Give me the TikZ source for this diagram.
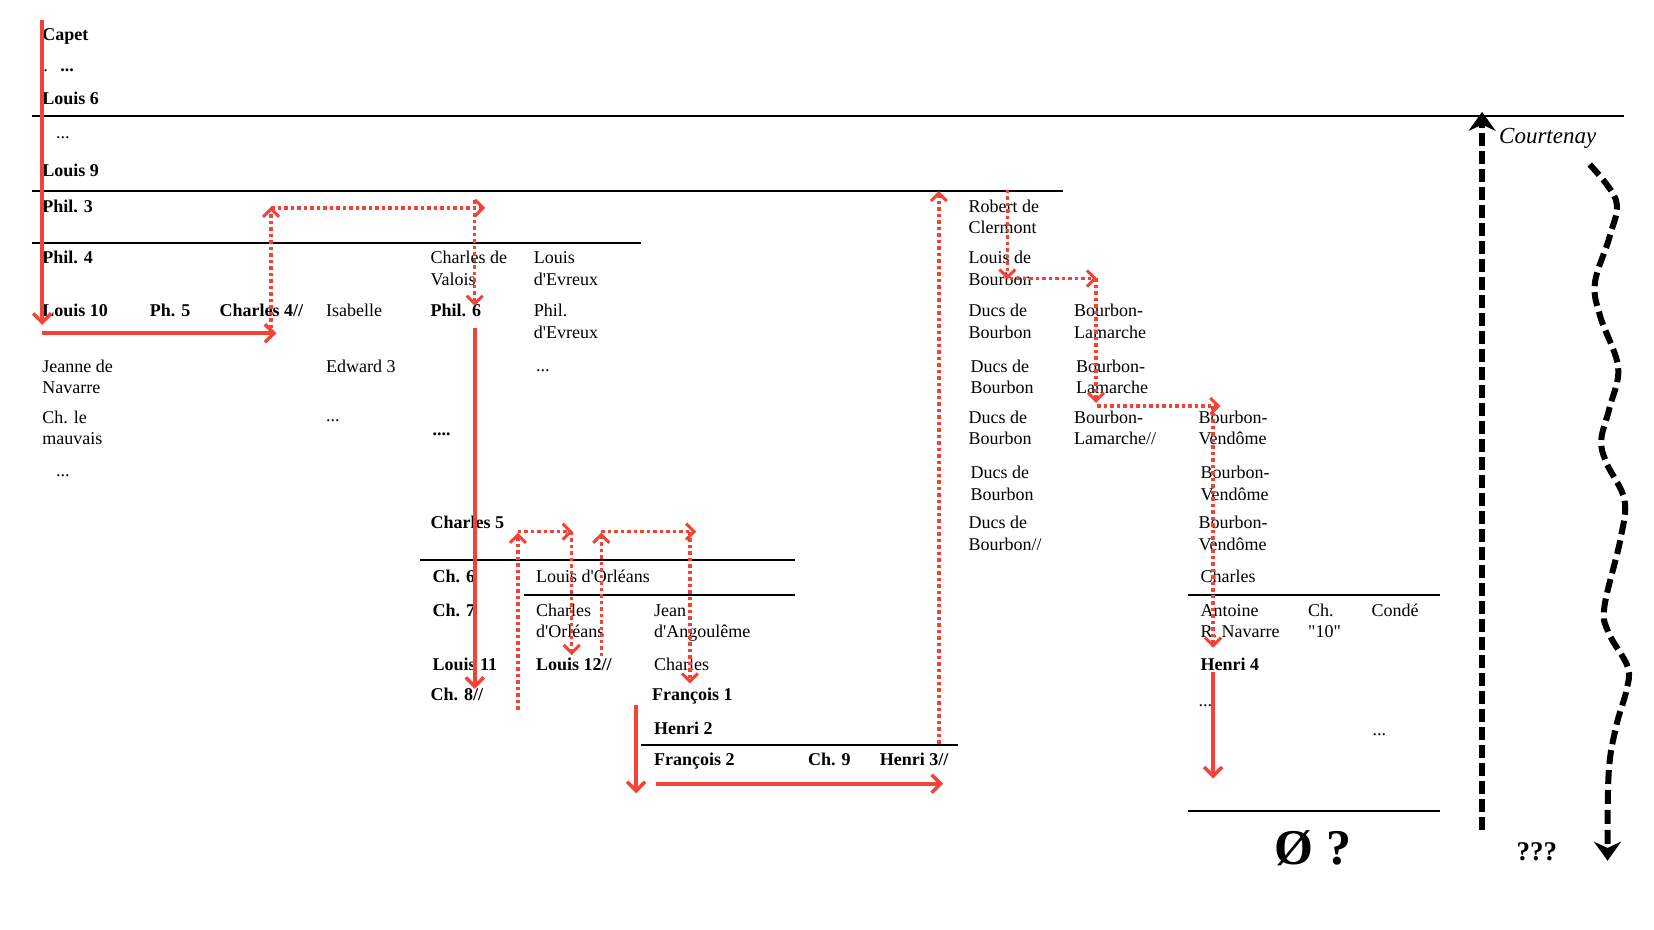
\documentclass[tikz,border=0pt]{standalone}
\usepackage{fontspec}
\setmainfont{Liberation Serif}[Ligatures=TeXOff]
\usetikzlibrary{arrows.meta}
\definecolor{lineage}{RGB}{245,66,54}

\begin{document}
\begin{tikzpicture}[x=1.05485pt, y=-1.05485pt,
      every node/.append style={anchor=base west,inner sep=0pt,align=left,font=\fontsize{18}{21.6}\selectfont},
      king/.style={font=\fontsize{18}{21.6}\selectfont\bfseries},
      twoline/.style={yshift=-21.6pt},
      crown/.style={lineage,line width=4pt,-{Straight Barb[length=9pt,width=18pt,line width=3.5pt]}},
      claim/.style={lineage,line width=3.5pt,dash pattern=on 3.5pt off 3pt,-{Straight Barb[length=8pt,width=16pt,line width=3pt]}},
      cadet/.style={black,line width=6pt,dash pattern=on 13pt off 5pt,-{Stealth[length=19pt,width=27pt]}}]
    \tikzstyle{era} = [line width=2pt]
    \useasboundingbox (0,0) rectangle (1568,881.6);
    \draw[era] (30,110) -- (1540,110);
    \draw[era] (30,181) -- (1008,181);
    \draw[era] (30,230) -- (608,230);
    \draw[era] (398,531) -- (754,531);
    \draw[era] (497,564) -- (754,564);
    \draw[era] (608,706) -- (908,706);
    \draw[era] (1126,564) -- (1365,564);
    \draw[era] (1126,769) -- (1365,769);
    \node [king] (Capet) at (40,38) {Capet};
    \node [king] (dotsA) at (41,68) {{\mdseries .}\hspace{12.5pt}...};
    \node [king] (Louis6) at (40,99) {Louis 6};
    \node (dotsB) at (53,131) {...};
    \node [king] (Louis9) at (40,167) {Louis 9};
    \node [king] (Phil3) at (40,201) {Phil. 3};
    \node [king] (Phil4) at (40,250) {Phil. 4};
    \node [king] (Louis10) at (40,300) {Louis 10};
    \node [king] (Ph5) at (142,300) {Ph. 5};
    \node [king] (Charles4) at (208,300) {Charles 4//};
    \node (Isabelle) at (309,300) {Isabelle};
    \node [twoline] (Valois) at (408,250) {Charles de\\Valois};
    \node [king] (Phil6) at (408,300) {Phil. 6};
    \node [twoline] (Evreux) at (506,250) {Louis\\d'Evreux};
    \node [twoline] (PhilEvreux) at (506,300) {Phil.\\d'Evreux};
    \node [twoline] (Jeanne) at (40,353) {Jeanne de\\Navarre};
    \node (Edward3) at (309,353) {Edward 3};
    \node (dotsC) at (508,352) {...};
    \node [twoline] (Mauvais) at (40,401) {Ch. le\\mauvais};
    \node (dotsD) at (309,400) {...};
    \node [king] (dotsE) at (410,413) {....};
    \node (dotsF) at (53,452) {...};
    \node [king] (Charles5) at (408,501) {Charles 5};
    \node [king] (Ch6) at (410,552) {Ch. 6};
    \node (Orleans) at (508,552) {Louis d'Orléans};
    \node [king] (Ch7) at (410,584) {Ch. 7};
    \node [twoline] (CharlesOrleans) at (508,584) {Charles\\d'Orléans};
    \node [twoline] (Angouleme) at (620,584) {Jean\\d'Angoulême};
    \node [king] (Louis11) at (410,636) {Louis 11};
    \node [king] (Louis12) at (508,636) {Louis 12//};
    \node (CharlesAng) at (620,636) {Charles};
    \node [king] (Ch8) at (408,664) {Ch. 8//};
    \node [king] (Francois1) at (618,664) {François 1};
    \node [king] (Henri2) at (620,696) {Henri 2};
    \node [king] (Francois2) at (620,726) {François 2};
    \node [king] (Ch9) at (766,726) {Ch. 9};
    \node [king] (Henri3) at (834,726) {Henri 3//};
    \node [twoline] (Clermont) at (918,201) {Robert de\\Clermont};
    \node [twoline] (LouisBourbon) at (918,250) {Louis de\\Bourbon};
    \node [twoline] (DucsA) at (918,300) {Ducs de\\Bourbon};
    \node [twoline] (LamarcheA) at (1018,300) {Bourbon-\\Lamarche};
    \node [twoline] (DucsB) at (920,353) {Ducs de\\Bourbon};
    \node [twoline] (LamarcheB) at (1020,353) {Bourbon-\\Lamarche};
    \node [twoline] (DucsC) at (918,401) {Ducs de\\Bourbon};
    \node [twoline] (LamarcheC) at (1018,401) {Bourbon-\\Lamarche//};
    \node [twoline] (VendomeA) at (1136,401) {Bourbon-\\Vendôme};
    \node [twoline] (DucsD) at (920,454) {Ducs de\\Bourbon};
    \node [twoline] (VendomeB) at (1138,454) {Bourbon-\\Vendôme};
    \node [twoline] (DucsE) at (918,501) {Ducs de\\Bourbon//};
    \node [twoline] (VendomeC) at (1136,501) {Bourbon-\\Vendôme};
    \node (CharlesVendome) at (1138,552) {Charles};
    \node [twoline] (Antoine) at (1138,584) {Antoine\\R. Navarre};
    \node [twoline] (Ch10) at (1240,584) {Ch.\\"10"};
    \node (Conde) at (1300,584) {Condé};
    \node [king] (Henri4) at (1138,636) {Henri 4};
    \node (dotsG) at (1136,670) {...};
    \node (dotsH) at (1301,697) {...};
    \node [anchor=base,font=\fontsize{50}{56}\selectfont\bfseries] (Nobody) at (1244.6,820) {Ø ?};
    \node [anchor=base,font=\fontsize{27}{30}\selectfont\bfseries] (Unknown) at (1457,816) {???};
    \node [font=\fontsize{23}{26}\selectfont\itshape] (Courtenay) at (1421,136) {Courtenay};
    \coordinate (capetTop) at (40,19);
    \coordinate (capetEnd) at (40,308);
    \coordinate (navarreFrom) at (40,316);
    \coordinate (navarreTo) at (262,316);
    \coordinate (valoisFrom) at (450,311);
    \coordinate (valoisTo) at (450,653);
    \coordinate (angFrom) at (603,668);
    \coordinate (angTo) at (603,752);
    \coordinate (henriFrom) at (622,743);
    \coordinate (henriTo) at (894,743);
    \coordinate (vendFrom) at (1150,637);
    \coordinate (vendTo) at (1150,738);
    \draw[crown] (capetTop) -- (capetEnd);
    \draw[crown] (navarreFrom) -- (navarreTo);
    \draw[crown] (valoisFrom) -- (valoisTo);
    \draw[crown] (angFrom) -- (angTo);
    \draw[crown] (henriFrom) -- (henriTo);
    \draw[crown] (vendFrom) -- (vendTo);
    \coordinate (c4low) at (257,311);
    \coordinate (c4up) at (257,196);
    \coordinate (valTop) at (460,197);
    \coordinate (valDrop) at (450,190);
    \coordinate (valEnd) at (450,290);
    \draw[claim] (c4low) -- (c4up);
    \draw[claim] (c4up |- valTop) -- (valTop);
    \draw[claim] (valDrop) -- (valEnd);
    \coordinate (orlLow) at (491,673);
    \coordinate (orlUp) at (491,505);
    \coordinate (orlTo) at (543,504);
    \coordinate (orlDrop) at (542,504);
    \coordinate (orlEnd) at (542,621);
    \draw[claim] (orlLow) -- (orlUp);
    \draw[claim] (orlLow |- orlTo) -- (orlTo);
    \draw[claim] (orlDrop) -- (orlEnd);
    \coordinate (angLow) at (570,622);
    \coordinate (angUp) at (570,505);
    \coordinate (angTo2) at (660,504);
    \coordinate (angDrop) at (654,504);
    \coordinate (angEnd) at (654,648);
    \draw[claim] (angLow) -- (angUp);
    \draw[claim] (angLow |- angTo2) -- (angTo2);
    \draw[claim] (angDrop) -- (angEnd);
    \coordinate (bourbonLow) at (890,705);
    \coordinate (bourbonUp) at (890,181);
    \draw[claim] (bourbonLow) -- (bourbonUp);
    \coordinate (clerTop) at (955,180);
    \coordinate (clerEnd) at (955,265);
    \coordinate (lamFrom) at (957,264);
    \coordinate (lamTo) at (1040,264);
    \coordinate (lamDrop) at (1039,264);
    \coordinate (lamEnd) at (1039,382);
    \coordinate (venFrom) at (1040,385);
    \coordinate (venTo) at (1157,385);
    \coordinate (venDrop) at (1150,385);
    \coordinate (venEnd) at (1150,614);
    \draw[claim] (clerTop) -- (clerEnd);
    \draw[claim] (lamFrom) -- (lamTo);
    \draw[claim] (lamDrop) -- (lamEnd);
    \draw[claim] (venFrom) -- (venTo);
    \draw[claim] (venDrop) -- (venEnd);
    \coordinate (courLow) at (1405,787);
    \coordinate (courUp) at (1405,106);
    \draw[cadet] (courLow) -- (courUp);
    \coordinate (waveTop) at (1507,156);
    \coordinate (waveEnd) at (1524,816);
    \draw[cadet,dash pattern=on 14pt off 6pt] plot[smooth,tension=0.6] coordinates {(waveTop) (1532,190) (1526,224) (1512,268) (1517,300) (1534,348) (1526,386) (1518,417) (1523,439) (1540,474) (1536,512) (1521,575) (1525,600) (1543,632) (1542,654) (1532,689) (1525,733) (waveEnd)};
\end{tikzpicture}
\end{document}
